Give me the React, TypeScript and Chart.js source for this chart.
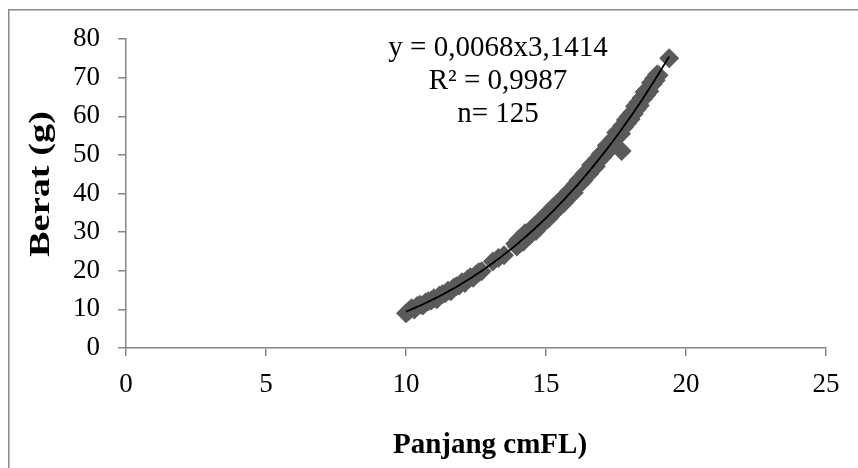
import React, { useEffect, useRef } from "react";
import { Chart, registerables } from "chart.js";

Chart.register(...registerables);

// Panjang (cm FL) dan berat (g) ikan contoh, n = 125
const panjang = [
  10.0, 10.1, 10.2, 10.3, 10.4, 10.5, 10.6, 10.7, 10.8, 10.9,
  11.0, 11.1, 11.2, 11.3, 11.4, 11.5, 11.6, 11.7, 11.8, 11.9,
  12.0, 12.1, 12.2, 12.3, 12.4, 12.5, 12.6, 12.7,
  13.1, 13.3, 13.5,
  13.9, 13.96, 14.02, 14.08, 14.13, 14.19, 14.25, 14.3, 14.36, 14.42,
  14.47, 14.53, 14.58, 14.64, 14.7, 14.75, 14.81, 14.87, 14.92, 14.98,
  15.03, 15.09, 15.15, 15.2, 15.26, 15.32, 15.37, 15.43, 15.48, 15.54,
  15.6, 15.65, 15.71, 15.77, 15.82, 15.88, 15.93, 15.99, 16.05, 16.1,
  16.16, 16.22, 16.27, 16.33, 16.38, 16.44, 16.5, 16.55, 16.61, 16.67,
  16.72, 16.78, 16.83, 16.89, 16.95, 17.0, 17.06, 17.12, 17.17, 17.23,
  17.28, 17.34, 17.4, 17.45, 17.51, 17.57, 17.62, 17.68, 17.73, 17.79,
  17.85, 17.9, 17.96, 18.02, 18.07, 18.13, 18.18, 18.24, 18.3, 18.35,
  18.41, 18.47, 18.52, 18.58, 18.63, 18.69, 18.75, 18.8, 18.86, 18.92,
  18.97, 19.02,
  17.7, 19.4,
];

const berat = [
  9.0, 9.6, 10.3, 10.0, 10.9, 11.2, 11.0, 11.8, 12.1, 12.3,
  12.9, 12.6, 13.6, 13.9, 14.2, 14.8, 14.7, 15.6, 16.0, 16.2,
  17.0, 16.8, 17.8, 18.3, 18.2, 19.0, 19.6, 19.9,
  22.4, 23.3, 24.0,
  27.0, 26.3, 28.1, 27.2, 28.2, 27.5, 29.7, 28.7, 29.9, 29.1,
  30.7, 30.3, 31.6, 30.3, 32.0, 31.4, 33.1, 32.5, 34.0, 32.9,
  34.2, 33.5, 35.4, 34.9, 36.5, 35.5, 36.8, 36.1, 37.8, 37.3,
  38.9, 37.6, 39.4, 39.0, 40.5, 39.7, 41.0, 40.2, 42.3, 41.8,
  43.4, 42.5, 43.9, 43.3, 45.2, 44.5, 46.0, 45.1, 47.4, 46.6,
  47.9, 47.0, 49.0, 48.5, 50.2, 49.3, 50.9, 50.3, 52.4, 51.6,
  53.1, 52.3, 54.2, 53.9, 55.8, 54.8, 56.2, 55.5, 57.6, 57.2,
  59.0, 58.2, 60.0, 59.2, 60.9, 60.6, 62.6, 61.8, 63.6, 62.8,
  64.7, 64.5, 66.3, 65.5, 67.0, 66.5, 68.7, 68.2, 69.8, 69.3,
  70.8, 70.6,
  51.0, 75.0,
];

// Regresi berat-panjang W = a L^b
const koefA = 0.0068;
const koefB = 3.1414;
const trendAwal = 10.0;
const trendAkhir = 19.4;
const labelPersamaan = ["y = 0,0068x3,1414", "R² = 0,9987", "n= 125"];

const judulX = "Panjang cmFL)";
const judulY = "Berat (g)";
const sumbuX = { min: 0, max: 25, step: 5 };
const sumbuY = { min: 0, max: 80, step: 10 };

const SERIF = "'Liberation Serif', 'Times New Roman', serif";
const AXIS_GRAY = "#868686";

export default function App() {
  const canvasRef = useRef<HTMLCanvasElement | null>(null);

  useEffect(() => {
    const canvas = canvasRef.current;
    if (!canvas) return;
    document.body.style.overflow = "hidden";

    const titik = panjang.map((x, i) => ({ x, y: berat[i] }));
    const nTrend = 80;
    const garisTrend = Array.from({ length: nTrend + 1 }, (_, i) => {
      const x = trendAwal + ((trendAkhir - trendAwal) * i) / nTrend;
      return { x, y: koefA * Math.pow(x, koefB) };
    });

    const framePlugin = {
      id: "bingkai",
      beforeDraw(chart: Chart) {
        const ctx = chart.ctx;
        ctx.save();
        ctx.fillStyle = "#ffffff";
        ctx.fillRect(0, 0, chart.width, chart.height);
        ctx.strokeStyle = "#8a8a8a";
        ctx.lineWidth = 1.5;
        ctx.beginPath();
        ctx.moveTo(8.75, chart.height);
        ctx.lineTo(8.75, 9.75);
        ctx.lineTo(chart.width, 9.75);
        ctx.stroke();
        ctx.restore();
      },
      afterDraw(chart: Chart) {
        const ctx = chart.ctx;
        ctx.save();
        ctx.fillStyle = "#000000";
        ctx.textAlign = "center";
        // judul sumbu Y (teks tegak)
        ctx.font = `bold 32px ${SERIF}`;
        ctx.textBaseline = "middle";
        ctx.save();
        ctx.translate(42, 184);
        ctx.rotate(-Math.PI / 2);
        const wY = ctx.measureText(judulY).width;
        ctx.scale(146 / wY, 0.9);
        ctx.fillText(judulY, 0, 0);
        ctx.restore();
        // judul sumbu X
        ctx.font = `bold 29px ${SERIF}`;
        ctx.textBaseline = "alphabetic";
        ctx.fillText(judulX, 490, 453);
        // persamaan regresi
        ctx.font = `29px ${SERIF}`;
        labelPersamaan.forEach((t, i) => {
          ctx.fillText(t, 498, 56 + i * 33);
        });
        ctx.restore();
      },
    };

    const chart = new Chart(canvas, {
      type: "scatter",
      data: {
        datasets: [
          {
            type: "line",
            label: "Trendline",
            data: garisTrend,
            borderColor: "#000000",
            borderWidth: 1.8,
            pointRadius: 0,
            fill: false,
            tension: 0,
            order: 0,
          },
          {
            type: "scatter",
            label: "Berat",
            data: titik,
            pointStyle: "rectRot",
            pointRadius: 10,
            backgroundColor: "#5a5a5a",
            borderColor: "#5a5a5a",
            borderWidth: 0,
            order: 1,
          },
        ],
      },
      options: {
        responsive: false,
        animation: false,
        events: [],
        layout: { padding: { top: 39, right: 32, bottom: 0, left: 0 } },
        plugins: {
          legend: { display: false },
          tooltip: { enabled: false },
        },
        scales: {
          x: {
            type: "linear",
            min: sumbuX.min,
            max: sumbuX.max,
            afterFit(scale: any) {
              scale.height = 120;
            },
            ticks: {
              stepSize: sumbuX.step,
              color: "#000000",
              font: { family: SERIF, size: 27 },
              padding: 13,
              maxRotation: 0,
            },
            grid: {
              display: true,
              drawOnChartArea: false,
              drawTicks: true,
              tickLength: 8,
              color: AXIS_GRAY,
              lineWidth: 1.5,
            },
            border: { display: true, color: AXIS_GRAY, width: 1.5 },
          },
          y: {
            type: "linear",
            min: sumbuY.min,
            max: sumbuY.max,
            afterFit(scale: any) {
              scale.width = 126;
            },
            ticks: {
              stepSize: sumbuY.step,
              color: "#000000",
              font: { family: SERIF, size: 27 },
              padding: 18,
            },
            grid: {
              display: true,
              drawOnChartArea: false,
              drawTicks: true,
              tickLength: 8,
              color: AXIS_GRAY,
              lineWidth: 1.5,
            },
            border: { display: true, color: AXIS_GRAY, width: 1.5 },
          },
        },
      },
      plugins: [framePlugin],
    });

    return () => {
      chart.destroy();
    };
  }, []);

  return (
    <div style={{ position: "fixed", left: 0, top: 0, width: 858, height: 468 }}>
      <canvas ref={canvasRef} width={858} height={468} style={{ width: 858, height: 468, display: "block" }} />
    </div>
  );
}
